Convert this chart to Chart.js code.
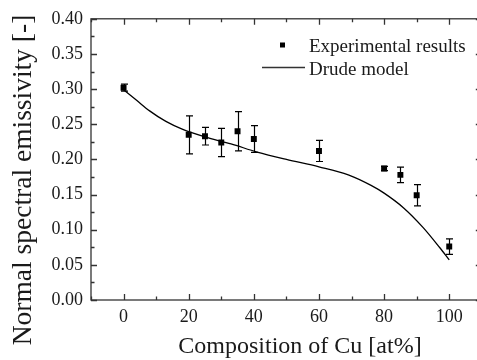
<!DOCTYPE html>
<html>
<head>
<meta charset="utf-8">
<script src="https://cdn.jsdelivr.net/npm/chart.js@4/dist/chart.umd.min.js"></script>
<style>
  html, body { margin: 0; padding: 0; background: #fff; overflow: hidden; }
  #wrap { width: 486px; height: 360px; }
</style>
</head>
<body>
<div id="wrap"><canvas id="chart" width="486" height="360"></canvas></div>
<script>
// measured points (composition of Cu, emissivity, error bar half height)
const compositions = [0, 20, 25, 30, 35, 40, 60, 80, 85, 90, 100];
const emissivity = [0.302, 0.235, 0.233, 0.224, 0.240, 0.229, 0.212, 0.187, 0.178, 0.149, 0.076];
const emissivityErr = [0.005, 0.027, 0.0125, 0.020, 0.028, 0.019, 0.015, 0.003, 0.011, 0.015, 0.011];

// Drude model curve
const drudeX = [0, 4, 8, 13, 18, 25, 33, 41, 50, 60, 69, 76, 80, 86, 92, 97, 100];
const drudeY = [0.299, 0.284, 0.269, 0.254, 0.243, 0.232, 0.222, 0.2105, 0.200, 0.1895, 0.178, 0.163, 0.152, 0.131, 0.103, 0.075, 0.057];

const xTicks = [0, 20, 40, 60, 80, 100];
const xMinorTicks = [-10, 10, 30, 50, 70, 90, 110];
const yTicks = [0, 0.05, 0.10, 0.15, 0.20, 0.25, 0.30, 0.35, 0.40];
const yMinorTicks = [0.025, 0.075, 0.125, 0.175, 0.225, 0.275, 0.325, 0.375];

const serif = "'Liberation Serif', 'DejaVu Serif', serif";
const ink = '#1a1a1a';

// frame, inward ticks, error bars, legend and axis titles
const decorations = {
    id: 'decorations',
    afterDatasetsDraw(chart) {
        const ctx = chart.ctx;
        const x = chart.scales.x;
        const y = chart.scales.y;
        ctx.save();
        ctx.strokeStyle = '#000';
        ctx.lineWidth = 1.2;
        for (let i = 0; i < emissivity.length; i++) {
            const px = Math.round(x.getPixelForValue(compositions[i])) + 0.5;
            const top = y.getPixelForValue(emissivity[i] + emissivityErr[i]);
            const bot = y.getPixelForValue(emissivity[i] - emissivityErr[i]);
            ctx.beginPath();
            ctx.moveTo(px, top); ctx.lineTo(px, bot);
            ctx.moveTo(px - 3.5, top); ctx.lineTo(px + 3.5, top);
            ctx.moveTo(px - 3.5, bot); ctx.lineTo(px + 3.5, bot);
            ctx.stroke();
        }
        ctx.restore();
    },
    afterDraw(chart) {
        const ctx = chart.ctx;
        const a = chart.chartArea;
        const x = chart.scales.x;
        const y = chart.scales.y;
        ctx.save();
        ctx.strokeStyle = '#333';
        ctx.lineWidth = 1.3;
        ctx.strokeRect(a.left, a.top, a.right - a.left, a.bottom - a.top);

        ctx.beginPath();
        const tickX = (v, len) => {
            const px = Math.round(x.getPixelForValue(v)) + 0.5;
            ctx.moveTo(px, a.bottom); ctx.lineTo(px, a.bottom - len);
            ctx.moveTo(px, a.top); ctx.lineTo(px, a.top + len);
        };
        const tickY = (v, len) => {
            const py = Math.round(y.getPixelForValue(v)) + 0.5;
            ctx.moveTo(a.left, py); ctx.lineTo(a.left + len, py);
            ctx.moveTo(a.right, py); ctx.lineTo(a.right - len, py);
        };
        xTicks.forEach(v => tickX(v, 6));
        xMinorTicks.forEach(v => tickX(v, 3.5));
        yTicks.forEach(v => tickY(v, 6));
        yMinorTicks.forEach(v => tickY(v, 3.5));
        ctx.stroke();

        // legend
        ctx.fillStyle = '#000';
        ctx.fillRect(280, 42.5, 5, 5);
        ctx.lineWidth = 1.3;
        ctx.beginPath();
        ctx.moveTo(262, 67.5); ctx.lineTo(305, 67.5);
        ctx.stroke();
        ctx.fillStyle = ink;
        ctx.font = '19px ' + serif;
        ctx.textAlign = 'left';
        ctx.textBaseline = 'alphabetic';
        ctx.fillText('Experimental results', 309, 52);
        ctx.fillText('Drude model', 309, 75);

        // axis titles
        ctx.font = '24px ' + serif;
        ctx.textAlign = 'center';
        ctx.fillText('Composition of Cu [at%]', 300, 353);
        ctx.save();
        ctx.translate(31, 180);
        ctx.rotate(-Math.PI / 2);
        ctx.font = '27.5px ' + serif;
        ctx.fillText('Normal spectral emissivity [-]', 0, 0);
        ctx.restore();
        ctx.restore();
    }
};

new Chart(document.getElementById('chart'), {
    type: 'scatter',
    data: {
        datasets: [{
            label: 'Drude model',
            data: drudeX.map((v, i) => ({x: v, y: drudeY[i]})),
            showLine: true,
            borderColor: '#000',
            borderWidth: 1.3,
            pointRadius: 0,
            cubicInterpolationMode: 'monotone',
            fill: false
        }, {
            label: 'Experimental results',
            data: compositions.map((v, i) => ({x: v, y: emissivity[i]})),
            pointStyle: 'rect',
            pointRadius: 4.2,
            backgroundColor: '#000',
            borderColor: '#000',
            borderWidth: 0
        }]
    },
    options: {
        responsive: false,
        animation: false,
        devicePixelRatio: 1,
        layout: {padding: {top: 15, right: 4, left: 0, bottom: 0}},
        plugins: {
            legend: {display: false},
            tooltip: {enabled: false}
        },
        scales: {
            x: {
                type: 'linear',
                min: -10,
                max: 110,
                afterFit(scale) { scale.height = 60; },
                afterBuildTicks(scale) { scale.ticks = xTicks.map(v => ({value: v})); },
                grid: {display: false, drawTicks: false},
                border: {display: false},
                ticks: {
                    padding: 6,
                    color: ink,
                    font: {family: serif, size: 18},
                    maxRotation: 0
                }
            },
            y: {
                type: 'linear',
                min: 0,
                max: 0.4,
                afterFit(scale) { scale.width = 91; },
                afterBuildTicks(scale) { scale.ticks = yTicks.map(v => ({value: v})); },
                grid: {display: false, drawTicks: false},
                border: {display: false},
                ticks: {
                    padding: 8,
                    color: ink,
                    font: {family: serif, size: 18},
                    callback: v => v.toFixed(2)
                }
            }
        }
    },
    plugins: [decorations]
});
</script>
</body>
</html>
